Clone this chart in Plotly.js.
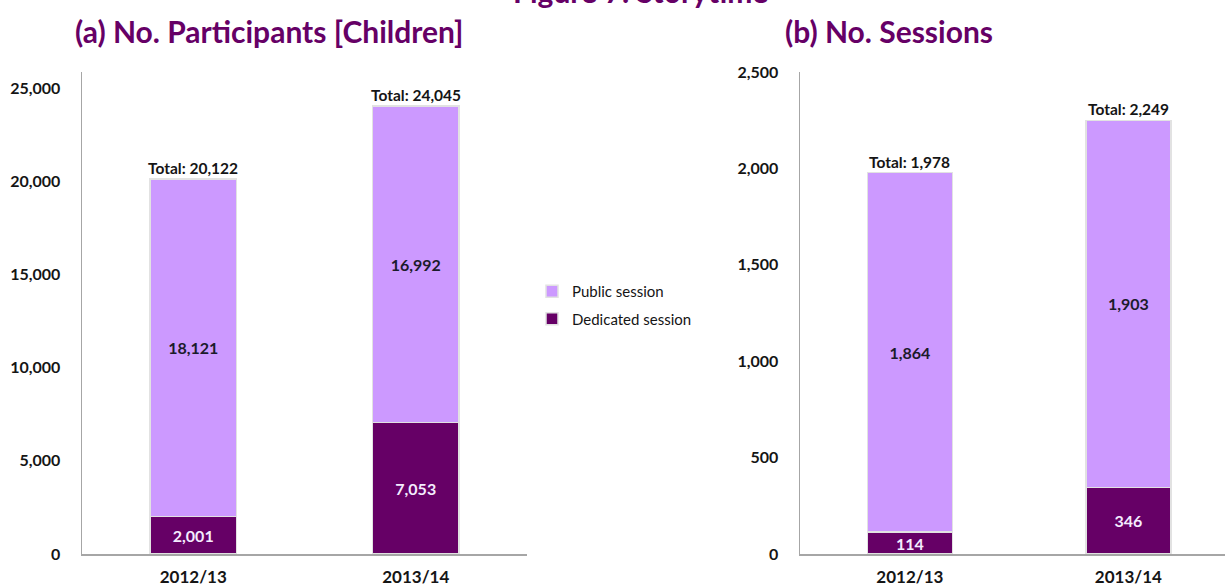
<!DOCTYPE html>
<html>
<head>
<meta charset="utf-8">
<script src="https://cdn.plot.ly/plotly-3.0.1.min.js"></script>
<style>html,body{margin:0;padding:0;background:#fff;}#chart{width:1225px;height:586px;}</style>
</head>
<body>
<div id="chart"></div>
<script>
// ---- data ----
const years = ["2012/13", "2013/14"];
const participantsDedicated = [2001, 7053];
const participantsPublic = [18121, 16992];
const sessionsDedicated = [114, 346];
const sessionsPublic = [1864, 1903];
const seriesNames = ["Dedicated session", "Public session"];
const panelTitles = ["(a) No. Participants [Children]", "(b) No. Sessions"];
const figureTitle = "Figure 7: Storytime";
const participantTicks = [0, 5000, 10000, 15000, 20000, 25000];
const sessionTicks = [0, 500, 1000, 1500, 2000, 2500];

// ---- style ----
const FONT = "Lato, 'Open Sans', sans-serif";
const LIGHT = "#CC99FF";
const DARK = "#660066";
const W = 1225, H = 586, T = 72, B = 32;
const PH = H - T - B;

function px2x(p) { return p / W; }
function py2y(p) { return (H - B - p) / PH; }

function barTrace(vals, name, color, xa, ya, show, textColor, rank) {
  return {
    type: "bar", x: years, y: vals, name: name, xaxis: xa, yaxis: ya,
    showlegend: show, legendgroup: name, legendrank: rank,
    marker: { color: color, line: { color: "#e2e2e2", width: 1.5 } },
    width: 0.39,
    texttemplate: "%{y:,}", textposition: "inside", insidetextanchor: "middle",
    constraintext: "none",
    textfont: { family: FONT, size: 16, color: textColor, weight: "bold" },
    hoverinfo: "skip"
  };
}

const data = [
  barTrace(participantsDedicated, seriesNames[0], DARK, "x", "y", true, "#f4ecff", 2),
  barTrace(participantsPublic, seriesNames[1], LIGHT, "x", "y", true, "#1b1b2b", 1),
  barTrace(sessionsDedicated, seriesNames[0], DARK, "x2", "y2", false, "#f4ecff", 2),
  barTrace(sessionsPublic, seriesNames[1], LIGHT, "x2", "y2", false, "#1b1b2b", 1)
];

const tickFont = { family: FONT, size: 16, color: "#151515", weight: "bold" };

function totalsAnn(dedi, pub, xref, yref) {
  return years.map((yr, i) => {
    const t = dedi[i] + pub[i];
    return {
      x: yr, y: t, xref: xref, yref: yref, yanchor: "bottom", showarrow: false,
      text: "Total: " + t.toLocaleString("en-US"), yshift: 0,
      font: { family: FONT, size: 15.5, color: "#151515", weight: "bold" }
    };
  });
}

const annotations = [
  ...totalsAnn(participantsDedicated, participantsPublic, "x", "y"),
  ...totalsAnn(sessionsDedicated, sessionsPublic, "x2", "y2"),
  { text: panelTitles[0], xref: "paper", yref: "paper", x: px2x(73), y: py2y(31),
    xanchor: "left", yanchor: "middle", showarrow: false,
    font: { family: FONT, size: 30, color: DARK, weight: "bold" } },
  { text: panelTitles[1], xref: "paper", yref: "paper", x: px2x(783), y: py2y(31),
    xanchor: "left", yanchor: "middle", showarrow: false,
    font: { family: FONT, size: 30, color: DARK, weight: "bold" } },
  { text: figureTitle, xref: "paper", yref: "paper", x: px2x(641), y: py2y(-9),
    xanchor: "center", yanchor: "middle", showarrow: false,
    font: { family: FONT, size: 30, color: DARK, weight: "bold" } }
];

const layout = {
  width: W, height: H,
  margin: { l: 0, r: 0, t: T, b: B, pad: 0 },
  paper_bgcolor: "#fff", plot_bgcolor: "#fff",
  barmode: "stack",
  showlegend: true,
  legend: {
    x: px2x(532), y: py2y(275), xanchor: "left", yanchor: "top",
    traceorder: "grouped", tracegroupgap: 5,
    font: { family: FONT, size: 15, color: "#151515" },
    bgcolor: "rgba(0,0,0,0)", itemwidth: 30
  },
  xaxis: {
    domain: [px2x(82), px2x(527)], range: [-0.5, 1.5], type: "category",
    showline: true, linecolor: "#a6a6a6", linewidth: 1.5,
    showgrid: false, zeroline: false, ticks: "", tickfont: { ...tickFont, size: 17 },
    ticklabelstandoff: 7, fixedrange: true
  },
  yaxis: {
    domain: [0, 1], range: [0, 25858], tickvals: participantTicks, tickformat: ",",
    showline: true, linecolor: "#a6a6a6", linewidth: 1.5,
    showgrid: false, zeroline: false, ticks: "", tickfont: tickFont,
    ticklabelstandoff: 17, anchor: "x"
  },
  xaxis2: {
    domain: [px2x(800), 1], range: [-0.503, 1.442], type: "category", anchor: "y2",
    showline: true, linecolor: "#a6a6a6", linewidth: 1.5,
    showgrid: false, zeroline: false, ticks: "", tickfont: { ...tickFont, size: 17 },
    ticklabelstandoff: 7
  },
  yaxis2: {
    domain: [0, 1], range: [0, 2500], tickvals: sessionTicks, tickformat: ",",
    showline: true, linecolor: "#a6a6a6", linewidth: 1.5,
    showgrid: false, zeroline: false, ticks: "", tickfont: tickFont,
    ticklabelstandoff: 17, anchor: "x2"
  },
  annotations: annotations
};

Plotly.newPlot("chart", data, layout, { displayModeBar: false, staticPlot: true });
</script>
</body>
</html>
